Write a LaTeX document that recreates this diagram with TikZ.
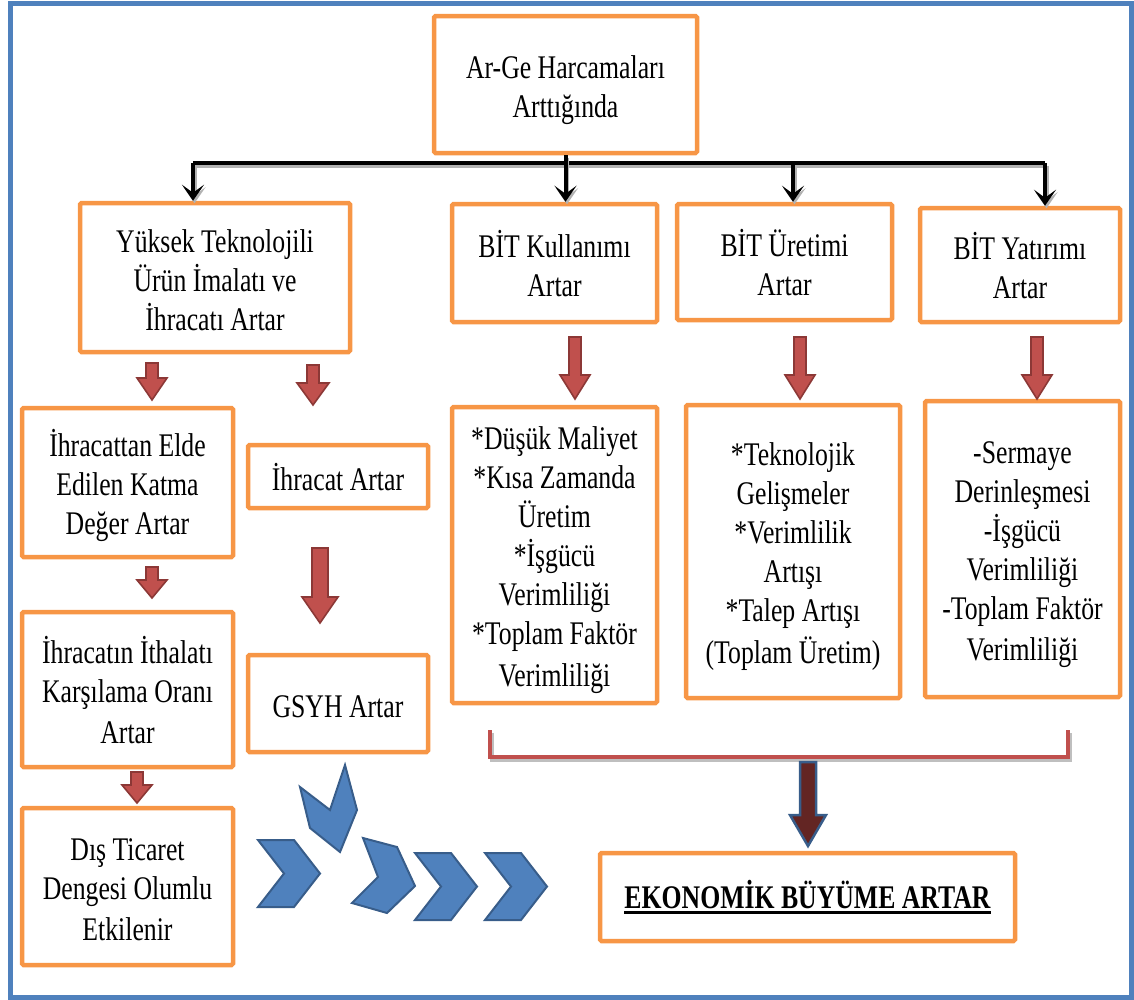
\documentclass[tikz,border=0pt]{standalone}
\usepackage{fontspec}
\newfontfamily\condserif[FakeStretch=0.78]{Liberation Serif}
\usetikzlibrary{arrows.meta,calc}

\definecolor{boxorange}{HTML}{F79646}
\definecolor{frameblue}{HTML}{4F81BD}
\definecolor{chevfill}{HTML}{4F81BD}
\definecolor{chevline}{HTML}{385D8A}
\definecolor{arrred}{HTML}{C0504D}
\definecolor{arrdark}{HTML}{8C3836}
\definecolor{deepred}{HTML}{632523}

% fixed line strut so every box sets its text at the same vertical offset
\newcommand{\ls}{\rule[-5.5pt]{0pt}{39pt}}
% block arrow pointing down: x, top y, tip y, shaft half width, head half width, head length
\newcommand{\blockarr}[6]{%
  \filldraw[redarrow] (#1-#4,#2) -- (#1+#4,#2) -- (#1+#4,#3-#6) -- (#1+#5,#3-#6)
    -- (#1,#3) -- (#1-#5,#3-#6) -- (#1-#4,#3-#6) -- cycle;}
% right-pointing chevron with its top-left corner at (x,y)
\newcommand{\chev}[2]{%
  \filldraw[chevron] (#1,#2) -- (#1+36,#2) -- (#1+62,#2+33.5) -- (#1+36,#2+67)
    -- (#1,#2+67) -- (#1+26,#2+33.5) -- cycle;}

\begin{document}
\begin{tikzpicture}[x=1pt,y=-1pt,
  box/.style={draw=boxorange, line width=4.5pt, rounded corners=1.5pt, fill=white,
    align=center, inner sep=0pt, anchor=center,
    font=\condserif\fontsize{33}{39}\selectfont},
  bus/.style={line width=4pt, black,
    preaction={draw=black!30, line width=4pt, transform canvas={shift={(1.5,2.5)}}}},
  busarrow/.style={bus, -{Stealth[length=16pt,width=22pt,inset=8pt]}},
  redarrow/.style={fill=arrred, draw=arrdark, line width=1.6pt, line join=miter},
  chevron/.style={fill=chevfill, draw=chevline, line width=2pt, line join=miter},
  bracket/.style={draw=arrred, line width=4pt,
    preaction={draw=black!25, line width=4pt, transform canvas={shift={(1.5,2.5)}}}}
]
\useasboundingbox (0,0) rectangle (1134,999);

% outer frame
\draw[frameblue, line width=5pt] (10,3) rectangle (1131,997);

% boxes
\node[box, minimum width=263pt, minimum height=137pt] (arge) at (565.5,84.5)
  {\ls Ar-Ge Harcamaları\\Arttığında\ls};
\node[box, minimum width=270pt, minimum height=149pt] (yuksek) at (215,277.5)
  {\ls Yüksek Teknolojili\\Ürün İmalatı ve\\İhracatı Artar\ls};
\node[box, minimum width=205pt, minimum height=118pt] (kull) at (554.5,263)
  {\ls BİT Kullanımı\\Artar\ls};
\node[box, minimum width=215pt, minimum height=116pt] (uret) at (784.5,262)
  {\ls BİT Üretimi\\Artar\ls};
\node[box, minimum width=200pt, minimum height=114pt] (yat) at (1020,265)
  {\ls BİT Yatırımı\\Artar\ls};

\node[box, minimum width=211pt, minimum height=149pt] (ihrel) at (127.5,482.5)
  {\ls İhracattan Elde\\Edilen Katma\\Değer Artar\ls};
\node[box, minimum width=180pt, minimum height=63pt] (ihrart) at (338,476.5)
  {\ls İhracat Artar};
\node[box, minimum width=211pt, minimum height=155pt] (ithal) at (127.5,689.5)
  {\ls İhracatın İthalatı\\Karşılama Oranı\\Artar\ls};
\node[box, minimum width=180pt, minimum height=97pt] (gsyh) at (338,703.5)
  {\ls GSYH Artar};
\node[box, minimum width=211pt, minimum height=157pt] (dis) at (127.5,886.5)
  {\ls Dış Ticaret\\Dengesi Olumlu\\Etkilenir\ls};

\node[box, minimum width=205pt, minimum height=296pt] (dusuk) at (554.5,555)
  {\ls *Düşük Maliyet\\*Kısa Zamanda\\Üretim\\*İşgücü\\Verimliliği\\*Toplam Faktör\\Verimliliği\ls};
\node[box, minimum width=214pt, minimum height=293pt] (tekno) at (793,551.5)
  {\ls *Teknolojik\\Gelişmeler\\*Verimlilik\\Artışı\\*Talep Artışı\\(Toplam Üretim)\ls};
\node[box, minimum width=195pt, minimum height=296pt] (serm) at (1022.5,549)
  {\ls -Sermaye\\Derinleşmesi\\-İşgücü\\Verimliliği\\-Toplam Faktör\\Verimliliği\ls};

\node[box, minimum width=415pt, minimum height=88pt,
  font=\condserif\bfseries\fontsize{33}{39}\selectfont]
  (eko) at (807.5,897)
  {\setbox0\hbox{EKONOMİK BÜYÜME ARTAR}\rlap{\rule[-6pt]{\wd0}{3pt}}\box0};

% black distribution lines from the top box
\coordinate (b1) at (193,163);
\coordinate (b3) at (793,163);
\coordinate (b4) at (1045,163);
\draw[bus] (b1) -- (b4);
\draw[busarrow] (arge.south) -- (arge.south |- kull.north);
\draw[busarrow] (b1) -- (b1 |- yuksek.north);
\draw[busarrow] (b3) -- (b3 |- uret.north);
\draw[busarrow] (b4) -- (b4 |- yat.north);

% red block arrows
\blockarr{152}{363}{400}{6}{15}{22}
\blockarr{313}{365}{405}{6}{16}{22}
\blockarr{152}{567}{598}{6}{15}{18}
\blockarr{137}{772}{803}{6}{15}{18}
\blockarr{320}{548}{623}{8}{18}{26}
\blockarr{575}{337}{399}{6}{15}{24}
\blockarr{800}{337}{399}{6}{15}{24}
\blockarr{1037}{337}{399}{6}{15}{24}

% bracket under the three detail boxes
\draw[bracket] (490,730) -- (490,757) -- (1068,757) -- (1068,730);

% arrow from the bracket to the result box
\filldraw[fill=deepred, draw=chevline, line width=2.5pt, line join=miter]
  (800,762) -- (816,762) -- (816,815) -- (826,815) -- (808,846)
  -- (790,815) -- (800,815) -- cycle;

% chevrons
\filldraw[chevron] (300,787) -- (330,810) -- (345,765) -- (357,810) -- (340,852) -- (310,828) -- cycle;
\chev{258}{840}
\filldraw[chevron] (363,838) -- (397,847) -- (415,886) -- (387,913) -- (352,903) -- (378,877) -- cycle;
\chev{415}{853}
\chev{485}{853}
\end{tikzpicture}
\end{document}
